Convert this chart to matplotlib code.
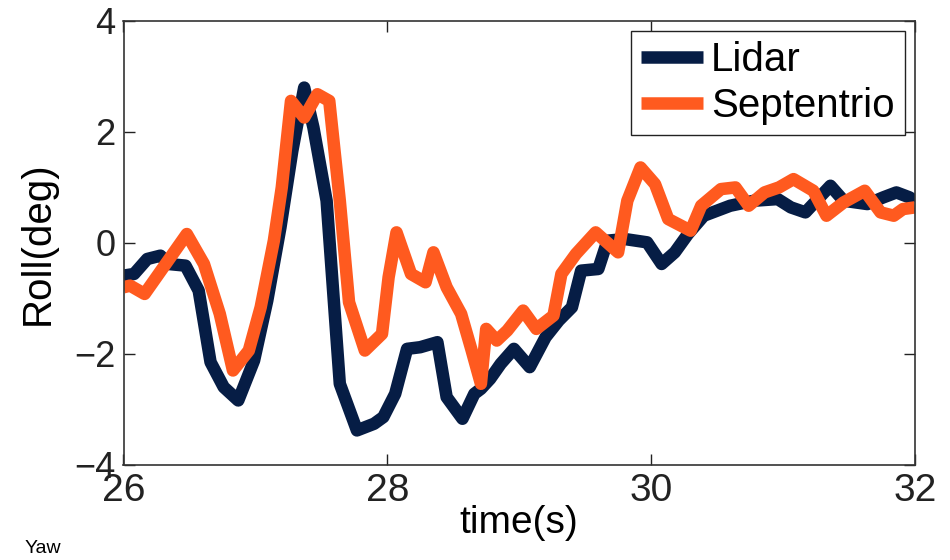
import matplotlib
matplotlib.use("Agg")
import matplotlib.pyplot as plt

# Lidar roll estimate (deg) vs time (s)
lidar_t = [26.00, 26.08, 26.18, 26.28, 26.34, 26.47, 26.57, 26.66, 26.76, 26.87,
           26.99, 27.09, 27.19, 27.28, 27.37, 27.44, 27.54, 27.64, 27.77, 27.90,
           27.97, 28.06, 28.15, 28.25, 28.38, 28.45, 28.57, 28.66, 28.71, 28.78,
           28.86, 28.96, 29.08, 29.20, 29.30, 29.40, 29.47, 29.60, 29.67, 29.80,
           29.97, 30.08, 30.18, 30.28, 30.40, 30.60, 30.78, 30.96, 31.06, 31.17,
           31.36, 31.46, 31.64, 31.76, 31.86, 31.96, 32.00]
lidar_v = [-0.59, -0.56, -0.29, -0.23, -0.38, -0.41, -0.86, -2.15, -2.60, -2.84,
           -2.12, -1.04, 0.28, 1.66, 2.80, 2.08, 0.76, -2.54, -3.38, -3.26,
           -3.14, -2.72, -1.91, -1.88, -1.79, -2.78, -3.17, -2.72, -2.63, -2.45,
           -2.18, -1.91, -2.24, -1.70, -1.40, -1.16, -0.50, -0.47, 0.04, 0.07,
           0.01, -0.38, -0.17, 0.16, 0.49, 0.67, 0.76, 0.79, 0.64, 0.55,
           1.03, 0.76, 0.70, 0.82, 0.91, 0.82, 0.75]

# Septentrio GNSS roll (deg)
sept_t = [26.00, 26.05, 26.16, 26.32, 26.48, 26.61, 26.73, 26.83, 26.95, 27.04,
          27.14, 27.20, 27.27, 27.37, 27.47, 27.56, 27.64, 27.71, 27.83, 27.96,
          28.01, 28.07, 28.18, 28.29, 28.35, 28.45, 28.56, 28.64, 28.71, 28.75,
          28.83, 28.91, 29.03, 29.13, 29.26, 29.32, 29.43, 29.58, 29.75, 29.82,
          29.92, 30.03, 30.13, 30.30, 30.38, 30.53, 30.64, 30.74, 30.86, 30.97,
          31.08, 31.23, 31.33, 31.46, 31.62, 31.74, 31.84, 31.91, 32.00]
sept_v = [-0.80, -0.77, -0.92, -0.38, 0.16, -0.38, -1.28, -2.30, -1.94, -1.16,
          0.04, 1.00, 2.56, 2.26, 2.68, 2.56, 0.76, -1.07, -1.94, -1.64,
          -0.62, 0.19, -0.56, -0.71, -0.17, -0.80, -1.28, -1.94, -2.54, -1.55,
          -1.76, -1.58, -1.22, -1.55, -1.31, -0.56, -0.20, 0.19, -0.17, 0.76,
          1.36, 1.06, 0.43, 0.22, 0.67, 0.97, 1.00, 0.67, 0.91, 1.00,
          1.15, 0.94, 0.49, 0.73, 0.94, 0.55, 0.49, 0.61, 0.64]

x_ticks = [26, 28, 30, 32]
y_ticks = [-4, -2, 0, 2, 4]

NAVY = "#061d45"
ORANGE = "#ff5a1f"
SANS = ["Liberation Sans", "DejaVu Sans"]

fig = plt.figure(figsize=(9.5, 5.6), dpi=100)
ax = fig.add_axes([0.13, 0.17, 0.833, 0.7925])

ax.plot(lidar_t, lidar_v, color=NAVY, linewidth=9, solid_joinstyle="round",
        solid_capstyle="butt", label="Lidar")
ax.plot(sept_t, sept_v, color=ORANGE, linewidth=9, solid_joinstyle="round",
        solid_capstyle="butt", label="Septentrio")

ax.set_xlim(26, 32)
ax.set_ylim(-4, 4)
ax.set_xticks(x_ticks)
ax.set_yticks(y_ticks)
ax.set_xticklabels([str(v) for v in x_ticks], family=SANS, fontsize=28)
ax.set_yticklabels([f"\u2212{-v}" if v < 0 else str(v) for v in y_ticks],
                   family=SANS, fontsize=26)
ax.tick_params(direction="in", length=8, width=1, top=True, right=True,
               colors="#222222")
ax.tick_params(axis="x", pad=6)
ax.tick_params(axis="y", pad=6)
for s in ax.spines.values():
    s.set_linewidth(1.2)
    s.set_color("#333333")

ax.set_xlabel("time(s)", family=SANS, fontsize=28, labelpad=-3)
ax.set_ylabel("Roll(deg)", family=SANS, fontsize=29, labelpad=12)

leg = ax.legend(loc="upper right", prop={"family": SANS, "size": 29},
                fancybox=False, framealpha=1, edgecolor="#222222",
                handlelength=1.55, handletextpad=0.2, borderpad=0.25,
                labelspacing=0.2, borderaxespad=0.25)
leg.get_frame().set_linewidth(1.0)
for line in leg.get_lines():
    line.set_linewidth(9)

fig.text(0.026, 0.012, "Yaw", family=SANS, fontsize=14)

fig.savefig("out.png", dpi=100)
